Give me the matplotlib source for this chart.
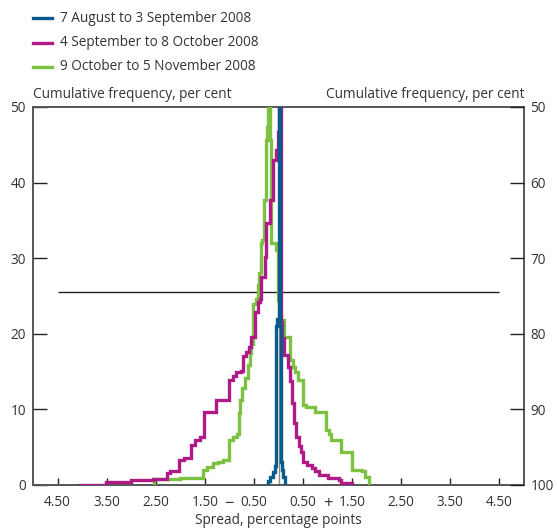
import matplotlib
matplotlib.use("Agg")
import matplotlib.pyplot as plt
from matplotlib.lines import Line2D

plt.rcParams['font.family'] = ['Open Sans', 'DejaVu Sans']

# Series labels and colours
series_labels = ["7 August to 3 September 2008",
                 "4 September to 8 October 2008",
                 "9 October to 5 November 2008"]
series_colors = ["#0b5a8e", "#b01a87", "#7cc142"]

# Folded cumulative distributions (steps): spread (pp) and cumulative frequency (%)
aug_x = [-0.24, -0.22, -0.18, -0.12, -0.08, -0.05, -0.03, 0.00, 0.03, 0.04, 0.05, 0.08, 0.10, 0.14]
aug_y = [0.0, 0.5, 1.0, 1.7, 2.5, 21.0, 22.0, 50.0, 30.0, 21.0, 3.0, 2.0, 1.0, 0.0]

sep_x = [-4.05, -3.52, -3.01, -2.55, -2.27, -2.20, -2.02, -1.92, -1.78, -1.70, -1.60,
         -1.52, -1.27, -1.01, -0.93, -0.86, -0.76, -0.73, -0.66, -0.60, -0.55, -0.48,
         -0.42, -0.38, -0.35, -0.28, -0.25, -0.18, -0.12, -0.05, -0.01, 0.02,
         0.05, 0.07, 0.12, 0.19, 0.24, 0.28, 0.32, 0.36, 0.41, 0.46, 0.49, 0.59,
         0.68, 0.75, 0.83, 1.00, 1.23, 1.27, 1.50]
sep_y = [0.0, 0.35, 0.6, 0.8, 1.6, 1.9, 3.3, 3.6, 5.3, 5.9, 6.4,
         9.6, 11.3, 13.9, 14.4, 14.9, 15.1, 17.0, 17.6, 18.2, 19.6, 22.9,
         24.2, 24.6, 27.5, 30.2, 34.6, 37.7, 43.0, 44.3, 46.7, 50.0,
         21.6, 19.4, 17.2, 15.6, 13.7, 10.8, 8.2, 6.4, 5.1, 4.4, 3.1, 2.6,
         2.2, 1.8, 1.3, 0.9, 0.66, 0.3, 0.0]

oct_x = [-2.54, -2.54, -2.00, -1.53, -1.46, -1.33, -1.23, -1.13, -1.00, -0.92, -0.85,
         -0.80, -0.78, -0.75, -0.69, -0.62, -0.59, -0.55, -0.51, -0.46, -0.42, -0.40,
         -0.36, -0.33, -0.30, -0.26, -0.24, -0.22,
         -0.18, -0.15, -0.05, -0.01, 0.02, 0.05, 0.12, 0.24, 0.30, 0.34, 0.39, 0.49,
         0.56, 0.74, 0.96, 1.03, 1.06, 1.27, 1.50, 1.70, 1.77, 1.84]
oct_y = [0.0, 0.75, 0.9, 2.0, 2.4, 2.9, 3.1, 3.3, 6.0, 6.4, 6.8,
         9.5, 11.2, 12.8, 14.1, 15.9, 17.4, 18.7, 24.0, 24.6, 26.5, 28.0,
         32.0, 32.4, 37.7, 45.6, 47.4, 50.0,
         45.6, 32.0, 31.1, 24.5, 22.5, 21.8, 19.6, 16.5, 15.6, 15.0, 13.9, 10.6,
         10.3, 9.7, 7.3, 6.8, 6.0, 4.4, 2.0, 1.9, 1.1, 0.0]

# Axis ticks
x_ticks = [-4.5, -3.5, -2.5, -1.5, -0.5, 0.5, 1.5, 2.5, 3.5, 4.5]
x_tick_labels = ["4.50", "3.50", "2.50", "1.50", "0.50", "0.50", "1.50", "2.50", "3.50", "4.50"]
y_ticks = [0, 10, 20, 30, 40, 50]
y_left_labels = ["0", "10", "20", "30", "40", "50"]
y_right_labels = ["100", "90", "80", "70", "60", "50"]
ref_level = 25.5

FS = 9.8
TXT = "#333333"

W, H = 557, 529
fig = plt.figure(figsize=(W / 100, H / 100), dpi=100)
ax = fig.add_axes([33 / W, 1 - 485 / H, (524 - 33) / W, (485 - 107) / H])

ax.hlines(ref_level, -4.5, 4.5, color="#222222", lw=1.0, zorder=1)
ax.vlines(0.02, 0, 22, color="#888888", lw=1.0, zorder=1)

lw = 2.4
for xs, ys, c in [(oct_x, oct_y, series_colors[2]),
                  (sep_x, sep_y, series_colors[1]),
                  (aug_x, aug_y, series_colors[0])]:
    ax.plot(xs, ys, drawstyle="steps-post", color=c, lw=lw, zorder=3,
            solid_joinstyle="miter")

ax.set_xlim(-5, 5)
ax.set_ylim(0, 50)

spine_c = "#555555"
for s in ax.spines.values():
    s.set_color(spine_c)
    s.set_linewidth(1.4)

ax.set_xticks(x_ticks)
ax.set_xticklabels(x_tick_labels)
ax.set_yticks(y_ticks)
ax.set_yticklabels(y_left_labels)
ax.tick_params(axis="x", direction="in", length=5, width=1.0, color="#222222",
               labelsize=FS, labelcolor=TXT, pad=7)
ax.tick_params(axis="y", direction="in", length=10, width=1.0, color="#222222",
               labelsize=FS, labelcolor=TXT, pad=5)

ax2 = ax.twinx()
ax2.set_ylim(0, 50)
ax2.set_yticks(y_ticks)
ax2.set_yticklabels(y_right_labels)
ax2.tick_params(axis="y", direction="in", length=10, width=1.0, color="#222222",
                labelsize=FS, labelcolor=TXT, pad=4.5)
for s in ax2.spines.values():
    s.set_visible(False)

# Sign markers between tick labels
ax.text(-1.0, -19 / 378, "\u2212", transform=ax.get_xaxis_transform(), ha="center",
        va="center", fontsize=12, color=TXT)
ax.text(1.0, -19 / 378, "+", transform=ax.get_xaxis_transform(), ha="center",
        va="center", fontsize=12, color=TXT)

ax.set_xlabel("Spread, percentage points", fontsize=FS, color=TXT, labelpad=2)

fig.text(33 / W, 1 - 94 / H, "Cumulative frequency, per cent", ha="left", va="center",
         fontsize=FS, color=TXT)
fig.text(524 / W, 1 - 94 / H, "Cumulative frequency, per cent", ha="right", va="center",
         fontsize=FS, color=TXT)

# Legend rows
for i, (lab, c) in enumerate(zip(series_labels, series_colors)):
    yy = 1 - (18 + 24.5 * i) / H
    fig.add_artist(Line2D([33 / W, 52 / W], [yy, yy], color=c, lw=2.4,
                          transform=fig.transFigure))
    fig.text(60 / W, yy, lab, ha="left", va="center", fontsize=FS, color=TXT)

fig.savefig("out.png", dpi=100)
